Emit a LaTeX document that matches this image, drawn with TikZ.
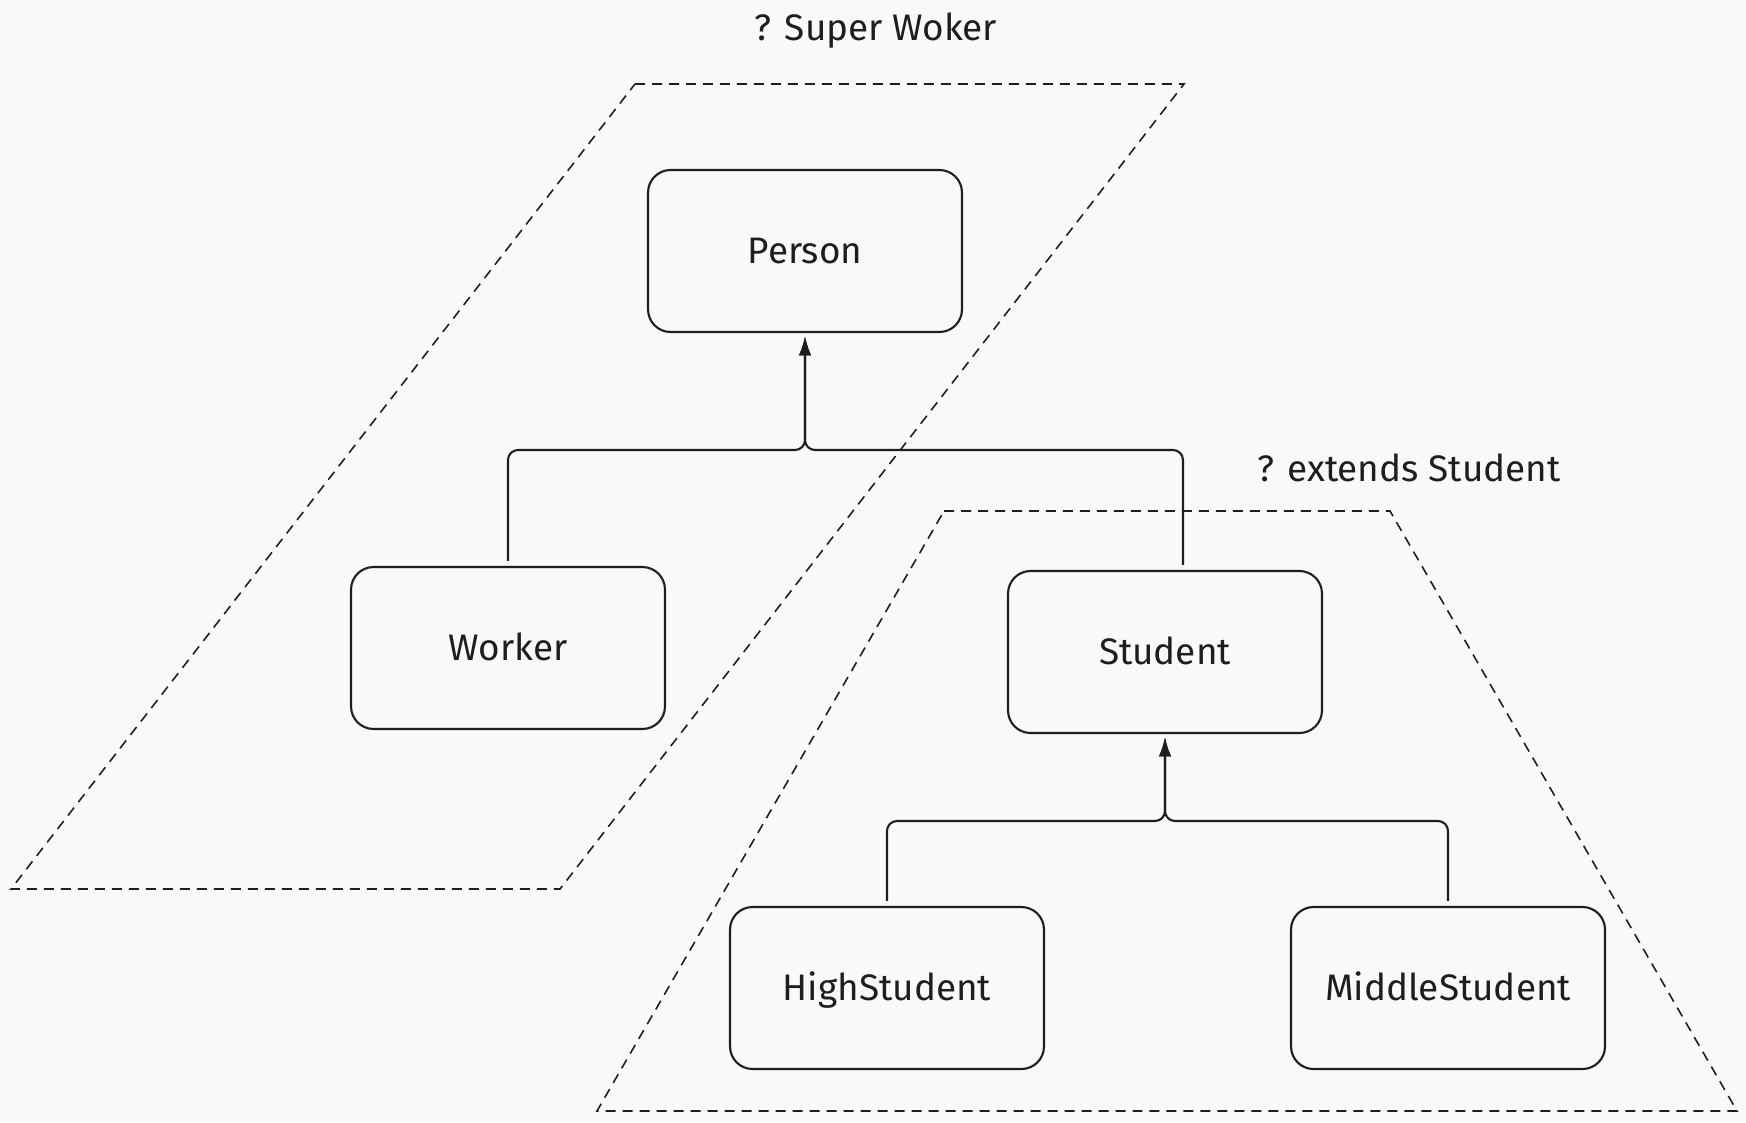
\documentclass[tikz,border=0pt]{standalone}
\usepackage{fontspec}
\setmainfont{Fira Sans}
\usetikzlibrary{positioning,calc,arrows.meta}
\definecolor{paper}{HTML}{F8F9FB}
\definecolor{ink}{HTML}{1E1E1E}
\begin{document}
\begin{tikzpicture}[x=0.02cm,y=-0.02cm,
  every node/.style = {text=ink, font=\fontsize{21}{25}\selectfont},
  classbox/.style = {shape=rectangle, rounded corners=0.45cm, draw=ink,
    line width=1.2pt, minimum width=6.28cm, minimum height=3.24cm,
    text height=14.5pt, text depth=0pt},
  link/.style = {draw=ink, line width=1.2pt, rounded corners=0.2cm,
    -{Latex[length=11pt,width=7pt]}, shorten <=0.1cm, shorten >=0.06cm},
  group/.style = {draw=ink, line width=0.9pt, dash pattern=on 0.2cm off 0.14cm}
  ]
  % canvas
  \fill[paper] (0,0) rectangle (1746,1122);
  \useasboundingbox (0,0) rectangle (1746,1122);
  % wildcard regions
  \draw[group] (635,84) -- (1184,84) -- (560,889) -- (11,889) -- cycle;
  \draw[group] (944,511) -- (1390,511) -- (1737,1111) -- (597,1111) -- cycle;
  \node (super) at (876,31) {? Super Woker};
  \node (extends) at (1409,468) {? extends Student};
  % classes
  \node[classbox] (person) at (805,251) {Person};
  \node[classbox] (worker) at (508,648) {Worker};
  \node[classbox] (student) at (1165,652) {Student};
  \node[classbox] (high) at (887,988) {HighStudent};
  \node[classbox] (middle) at (1448,988) {MiddleStudent};
  % inheritance
  \coordinate (joinA) at (805,450);
  \coordinate (joinB) at (1165,821);
  \draw[link] (worker.north) |- (joinA) -- (person.south);
  \draw[link] ($(student.north)+(18,0)$) |- (joinA) -- (person.south);
  \draw[link] (high.north) |- (joinB) -- (student.south);
  \draw[link] (middle.north) |- (joinB) -- (student.south);
\end{tikzpicture}
\end{document}
